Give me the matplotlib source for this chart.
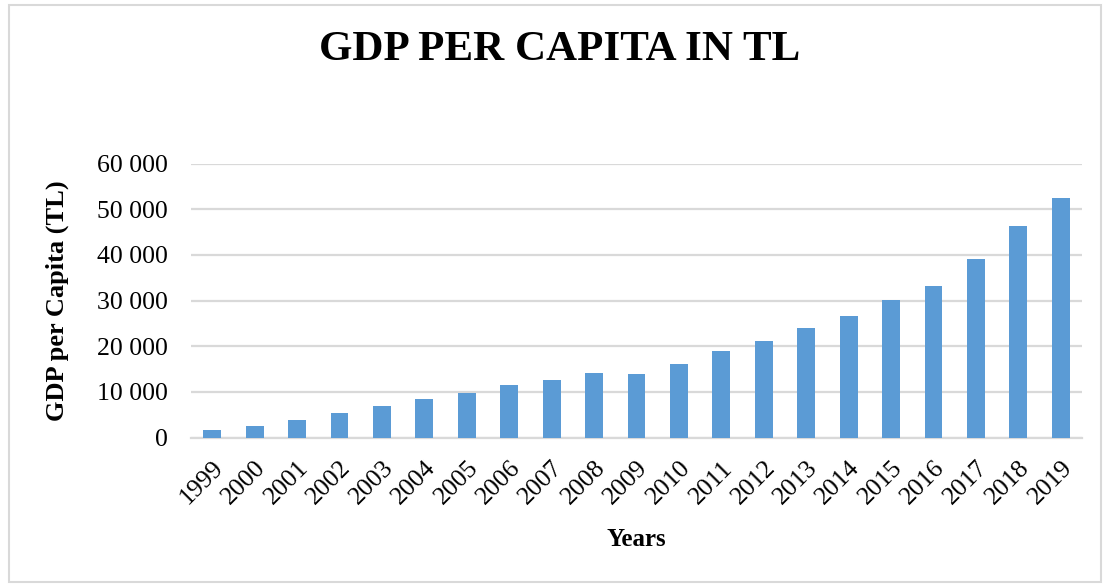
import matplotlib.pyplot as plt
from matplotlib.patches import Rectangle
from matplotlib.ticker import FuncFormatter

# data
years = [str(y) for y in range(1999, 2020)]
gdp_per_capita = [1600, 2560, 3800, 5400, 7000, 8540, 9850, 11460, 12560, 14090,
                  13870, 16060, 18900, 21100, 23940, 26570, 30070, 33140, 39050,
                  46280, 52340]
y_ticks = [0, 10000, 20000, 30000, 40000, 50000, 60000]

plt.rcParams['font.family'] = ['Liberation Serif', 'DejaVu Serif']

fig = plt.figure(figsize=(11.06, 5.84), dpi=100)
ax = fig.add_axes([191 / 1106, 1 - 437.5 / 584, (1082 - 191) / 1106, (437.5 - 163.5) / 584])

x = range(len(years))
ax.bar(x, gdp_per_capita, width=0.42, color='#5b9bd5', zorder=3)

ax.set_ylim(0, 60000)
ax.set_xlim(-0.5, len(years) - 0.5)
ax.set_yticks(y_ticks)
ax.yaxis.set_major_formatter(FuncFormatter(lambda v, p: f'{int(v):,}'.replace(',', ' ')))
ax.set_xticks(list(x))
ax.set_xticklabels(years, rotation=45, ha='right', rotation_mode='anchor')

ax.grid(axis='y', color='#d9d9d9', linewidth=1.6, zorder=0)
for s in ['top', 'right', 'left']:
    ax.spines[s].set_visible(False)
ax.spines['bottom'].set_color('#d9d9d9')
ax.spines['bottom'].set_linewidth(1.6)
ax.tick_params(axis='both', length=0, labelsize=18.5)
ax.tick_params(axis='y', pad=17)
ax.tick_params(axis='x', pad=14)

ax.set_ylabel('GDP per Capita (TL)', fontsize=19, fontweight='bold', labelpad=20)
ax.set_xlabel('Years', fontsize=18, fontweight='bold', labelpad=14)

fig.text(0.506, 1 - 50 / 584, 'GDP PER CAPITA IN TL', fontsize=31, fontweight='bold',
         ha='center', va='center')

# light frame around the chart
fig.patches.append(Rectangle((9 / 1106, 2 / 584), 1092 / 1106, 577 / 584,
                             transform=fig.transFigure, fill=False,
                             edgecolor='#d9d9d9', linewidth=1.5))

fig.savefig('out.png', dpi=100)
